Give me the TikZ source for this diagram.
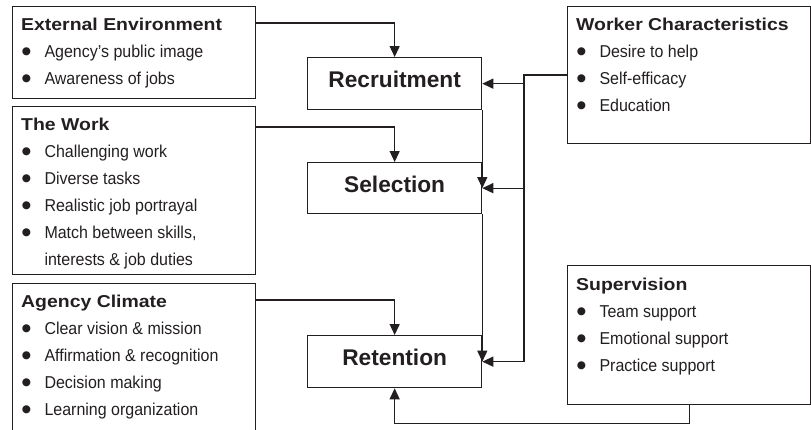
\documentclass[tikz,border=0pt]{standalone}
\usepackage{fontspec}
\setmainfont{Liberation Sans}
\newfontfamily\hdfont[FakeStretch=1.13]{Liberation Sans}
\newfontfamily\itfont[FakeStretch=0.93]{Liberation Sans}
\newfontfamily\ctfont{Liberation Sans}
\newfontfamily\symfont{DejaVu Sans}
\usetikzlibrary{arrows.meta}
\definecolor{ink}{HTML}{231F20}
\newcommand{\bul}{\makebox[23.3pt][l]{\hspace{0.6pt}\raisebox{2.4pt}{\symfont\fontsize{10.5}{10.5}\selectfont ●}}}
\newcommand{\indt}{\hspace{23.3pt}}
\newcommand{\hd}[2]{{\hdfont\bfseries\rule{0pt}{#1}#2}}
\begin{document}
\begin{tikzpicture}[x=1pt,y=-1pt,
  box/.style={draw=ink, line width=1.3pt, inner sep=0pt, anchor=north west, rectangle},
  sidebox/.style={box, minimum width=243pt},
  midbox/.style={box, minimum width=174pt, minimum height=52pt},
  txt/.style={anchor=north west, inner sep=0pt, align=left, text=ink,
    font={\itfont\fontsize{17.2}{27}\selectfont}},
  ctext/.style={inner sep=0pt, text=ink, font={\ctfont\bfseries\fontsize{22.7}{27}\selectfont}},
  conn/.style={draw=ink, line width=1.3pt},
  arr/.style={conn, -{Triangle[length=11pt,width=10pt]}}]
\useasboundingbox (0,0) rectangle (811,429);
\clip (0,0) rectangle (811,429);

% side boxes
\node[sidebox, minimum height=92pt] (ext) at (12,6) {};
\node[sidebox, minimum height=168pt] (work) at (12,106) {};
\node[sidebox, minimum height=157pt] (clim) at (12,283) {};
\node[sidebox, minimum height=137pt] (wc) at (567,6) {};
\node[sidebox, minimum height=139pt] (sup) at (567,265) {};

\node[txt] (extT) at ([xshift=9pt]ext.north west) {\hd{24pt}{External Environment}\\
  \bul Agency’s public image\\
  \bul Awareness of jobs};
\node[txt] (workT) at ([xshift=9pt]work.north west) {\hd{24pt}{The Work}\\
  \bul Challenging work\\
  \bul Diverse tasks\\
  \bul Realistic job portrayal\\
  \bul Match between skills,\\
  \indt interests \& job duties};
\node[txt] (climT) at ([xshift=9pt]clim.north west) {\hd{24pt}{Agency Climate}\\
  \bul Clear vision \& mission\\
  \bul Affirmation \& recognition\\
  \bul Decision making\\
  \bul Learning organization};
\node[txt] (wcT) at ([xshift=9pt]wc.north west) {\hd{24pt}{Worker Characteristics}\\
  \bul Desire to help\\
  \bul Self-efficacy\\
  \bul Education};
\node[txt] (supT) at ([xshift=9pt]sup.north west) {\hd{25pt}{Supervision}\\
  \bul Team support\\
  \bul Emotional support\\
  \bul Practice support};

% middle boxes
\node[midbox] (rec) at (307,57) {};
\node[midbox, minimum height=51pt] (sel) at (307,162) {};
\node[midbox] (ret) at (307,335) {};
\node[ctext] (recT) at ([yshift=4pt]rec.center) {Recruitment};
\node[ctext] (selT) at ([yshift=4pt]sel.center) {Selection};
\node[ctext] (retT) at ([yshift=4pt]ret.center) {Retention};

% connectors from left boxes
\draw[arr] ([yshift=-17pt]ext.north east) -| (rec.north);
\draw[arr] ([yshift=-21pt]work.north east) -| (sel.north);
\draw[arr] ([yshift=-17pt]clim.north east) -| (ret.north);

% worker characteristics
\coordinate (jt) at (524,75);
\draw[conn] ([yshift=-69pt]wc.north west) -- (jt) -- (jt |- ret.east);
\draw[arr] (jt |- rec.east) -- (rec.east);
\draw[arr] (jt |- sel.east) -- (sel.east);
\draw[arr] (jt |- ret.east) -- (ret.east);

% stage to stage
\draw[arr] (rec.south east) -- (sel.east);
\draw[arr] (sel.south east) -- (ret.east);

% supervision
\draw[arr] (sup.south) -- ++(0,18) -| (ret.south);
\end{tikzpicture}
\end{document}
